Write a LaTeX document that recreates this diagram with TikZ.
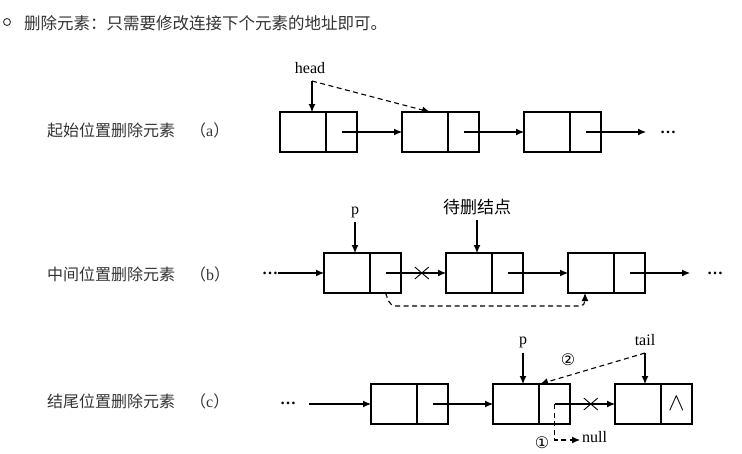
\documentclass[tikz,border=0pt]{standalone}
\usepackage{fontspec}
\setmainfont{Liberation Serif}
\newfontfamily\cjk{Noto Sans CJK SC}
\newfontfamily\symb{DejaVu Sans}
\usepackage{xcolor}
\usepackage{tikz}
\usetikzlibrary{arrows.meta,calc,positioning,shapes.misc}
\definecolor{txtgray}{HTML}{333333}
\tikzset{
  datacell/.style={draw, line width=1.1pt, minimum width=46pt, minimum height=40pt, inner sep=0pt, outer sep=0pt},
  ptrcell/.style={datacell, minimum width=31pt},
  larr/.style={-{Latex[length=8pt,width=7pt]}, line width=1.1pt},
  darr/.style={larr, dash pattern=on 5pt off 3.5pt},
  lbl/.style={font=\fontsize{16}{16}\selectfont\cjk, text=txtgray, anchor=west, inner sep=0pt},
  ptrlbl/.style={font=\fontsize{16}{16}\selectfont, inner sep=0pt},
  dotsnode/.style={font=\fontsize{16}{16}\selectfont\bfseries, inner sep=0pt},
  circnum/.style={font=\fontsize{16}{16}\selectfont\symb, inner sep=0pt},
  xmark/.style={cross out, draw, line width=0.9pt, minimum width=13pt, minimum height=11pt, inner sep=0pt}
}

\begin{document}
\begin{tikzpicture}[x=1pt,y=-1pt]
  \useasboundingbox (0,0) rectangle (742,453);
  \node[circle, draw=txtgray, line width=0.9pt, minimum size=7pt, inner sep=0pt] (bullet) at (7,22) {};
  \node[lbl, font=\fontsize{16.5}{16.5}\selectfont\cjk] (title) at (24,23) {删除元素：只需要修改连接下个元素的地址即可。};

  % (a)
  \node[lbl] (la) at (47,130) {起始位置删除元素};
  \node[lbl] (ta) at (190,130) {（{\rmfamily a}）};
  \node[datacell] (a1) at (303,132) {};
  \node[ptrcell, right=0pt of a1] (a1n) {};
  \node[datacell] (a2) at (425,132) {};
  \node[ptrcell, right=0pt of a2] (a2n) {};
  \node[datacell] (a3) at (547,132) {};
  \node[ptrcell, right=0pt of a3] (a3n) {};
  \coordinate (aend) at (646,132);
  \node[dotsnode] (adots) at (668,132) {…};
  \draw[larr] (a1n.center) -- (a2.west);
  \draw[larr] (a2n.center) -- (a3.west);
  \draw[larr] (a3n.center) -- (aend);
  \node[ptrlbl] (head) at (310,68) {head};
  \coordinate (headc) at (312,81);
  \draw[larr] (headc) -- (headc |- a1.north);
  \draw[darr] (headc) -- ([xshift=5pt]a2.north);

  % (b)
  \node[lbl] (lb) at (47,274) {中间位置删除元素};
  \node[lbl] (tb) at (190,274) {（{\rmfamily b}）};
  \node[datacell] (b1) at (347,273) {};
  \node[ptrcell, right=0pt of b1] (b1n) {};
  \node[datacell] (b2) at (469,273) {};
  \node[ptrcell, right=0pt of b2] (b2n) {};
  \node[datacell] (b3) at (591,273) {};
  \node[ptrcell, right=0pt of b3] (b3n) {};
  \node[dotsnode] (bdots) at (270,273) {…};
  \coordinate (bend) at (690,273);
  \node[dotsnode] (bdots2) at (715,273) {…};
  \draw[larr] (bdots.east) -- (b1.west);
  \draw[larr] (b1n.center) -- node[xmark, pos=0.6] (bx) {} (b2.west);
  \draw[larr] (b2n.center) -- (b3.west);
  \draw[larr] (b3n.center) -- (bend);
  \node[ptrlbl] (pb) at (355,212) {p};
  \coordinate (pbc) at (355,222);
  \draw[larr] (pbc) -- (pbc |- b1.north);
  \node[ptrlbl, font=\fontsize{17}{17}\selectfont\cjk] (del) at (477,207) {待删结点};
  \coordinate (delc) at (477,220);
  \draw[larr] (delc) -- (delc |- b2.north);
  \draw[darr, rounded corners=5pt] (b1n.south) -- ++(5,13) -| ([xshift=-6pt]b3.south);

  % (c)
  \node[lbl] (lc) at (47,401) {结尾位置删除元素};
  \node[lbl] (tc) at (190,401) {（{\rmfamily c}）};
  \node[datacell] (c1) at (394,404) {};
  \node[ptrcell, right=0pt of c1] (c1n) {};
  \node[datacell] (c2) at (516,404) {};
  \node[ptrcell, right=0pt of c2] (c2n) {};
  \node[datacell] (c3) at (638,404) {};
  \node[ptrcell, right=0pt of c3, font=\fontsize{24}{24}\selectfont] (c3n) {$\wedge$};
  \node[dotsnode] (cdots) at (288,403) {…};
  \coordinate (cstart) at (309,404);
  \draw[larr] (cstart) -- (c1.west);
  \draw[larr] (c1n.center) -- (c2.west);
  \draw[larr] (c2n.center) -- node[xmark, pos=0.6] (cx) {} (c3.west);
  \node[ptrlbl] (pc) at (523,342) {p};
  \coordinate (pcc) at (523,353);
  \draw[larr] (pcc) -- (pcc |- c2.north);
  \node[ptrlbl] (tail) at (645,340) {tail};
  \coordinate (tailc) at (645,353);
  \draw[larr] (tailc) -- (tailc |- c3.north);
  \draw[darr] (tailc) -- ([xshift=24pt]c2.north);
  \node[circnum] (n2) at (568,360) {②};
  \coordinate (cnull) at (580,440);
  \draw[darr] (c2n.center) |- (cnull);
  \node[ptrlbl, anchor=west] (null) at (582,437) {null};
  \node[circnum] (n1) at (542,443) {①};
\end{tikzpicture}
\end{document}
